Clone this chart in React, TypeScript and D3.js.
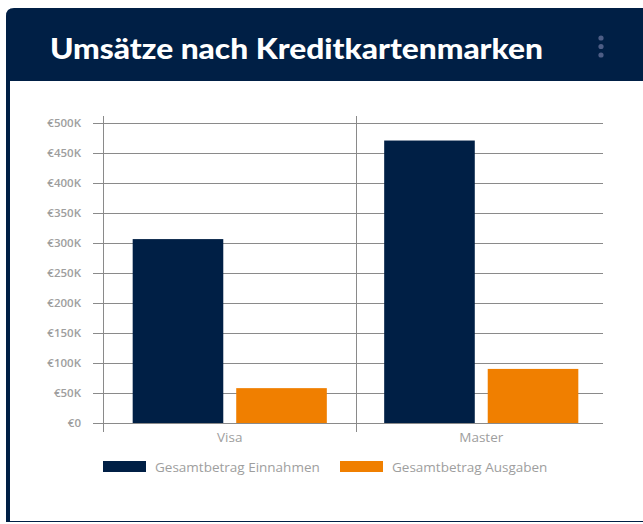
import React from "react";
import * as d3 from "d3";

const categories = ["Visa", "Master"];
const seriesNames = ["Gesamtbetrag Einnahmen", "Gesamtbetrag Ausgaben"];
const einnahmen = [306000, 470000];
const ausgaben = [58000, 90000];
const yTicks = [0, 50000, 100000, 150000, 200000, 250000, 300000, 350000, 400000, 450000, 500000];
const colors = ["#001f45", "#f07f00"];
const title = "Umsätze nach Kreditkartenmarken";

export default function App() {
  const W = 643, H = 524;
  const left = 104, right = 607, top = 122.5, bottom = 423;
  const x0 = d3.scaleBand<string>().domain(categories).range([left, right]).padding(0);
  const x1 = d3.scaleBand<string>().domain(seriesNames).range([0, x0.bandwidth()]).paddingInner(0.125).paddingOuter(0.277);
  const y = d3.scaleLinear().domain([0, 500000]).range([bottom, top]);
  const fmt = (v: number) => "€" + (v === 0 ? "0" : d3.format("d")(v / 1000) + "K");
  const values = [einnahmen, ausgaben];
  const font = "'Open Sans', sans-serif";
  const grid = "#8a8a8a";
  const lbl = "#9e9e9e";

  return (
    <svg width={W} height={H} style={{ position: "absolute", left: 0, top: 0 }}>
      <rect x={0} y={0} width={W} height={H} fill="#fff" />
      {/* card */}
      <path d={`M6,${H - 2} L6,16 Q6,8 14,8 L${W + 10},8 L${W + 10},${H - 2} Z`} fill="#001f45" />
      <rect x={10} y={81} width={W} height={H - 2 - 81 - 1} fill="#fff" />
      <text x={50} y={59} fill="#fff" fontFamily="Lato, sans-serif" fontWeight={900} fontSize={29} textLength={493} lengthAdjust="spacingAndGlyphs">{title}</text>
      {[38, 46.5, 55].map((cy, i) => (
        <circle key={i} cx={601} cy={cy} r={2.6} fill="#4d5d85" />
      ))}
      {/* grid */}
      {yTicks.map((t) => (
        <g key={t}>
          <line x1={93} x2={603} y1={Math.round(y(t)) + 0.5} y2={Math.round(y(t)) + 0.5} stroke={grid} strokeWidth={1} />
          <text x={81} y={y(t) + 4} textAnchor="end" fill={lbl} fontFamily={font} fontWeight={600} fontSize={11.5}>{fmt(t)}</text>
        </g>
      ))}
      <line x1={103.5} x2={103.5} y1={116} y2={432} stroke={grid} />
      {categories.slice(1).map((c) => (
        <line key={c} x1={Math.round(x0(c)!) + 0.5} x2={Math.round(x0(c)!) + 0.5} y1={116} y2={432} stroke={grid} />
      ))}
      {/* bars */}
      {categories.map((c, ci) => (
        <g key={c}>
          {seriesNames.map((s, si) => (
            <rect key={s} x={x0(c)! + x1(s)!} width={x1.bandwidth()} y={y(values[si][ci])} height={bottom - y(values[si][ci])} fill={colors[si]} />
          ))}
          <text x={x0(c)! + x0.bandwidth() / 2} y={442} textAnchor="middle" fill={lbl} fontFamily={font} fontSize={13.5}>{c}</text>
        </g>
      ))}
      {/* legend */}
      {seriesNames.map((s, i) => {
        const lx = [103, 340][i];
        return (
          <g key={s}>
            <rect x={lx} y={461} width={43} height={11} fill={colors[i]} />
            <text x={lx + 52} y={472} fill={lbl} fontFamily={font} fontSize={13.5}>{s}</text>
          </g>
        );
      })}
    </svg>
  );
}
